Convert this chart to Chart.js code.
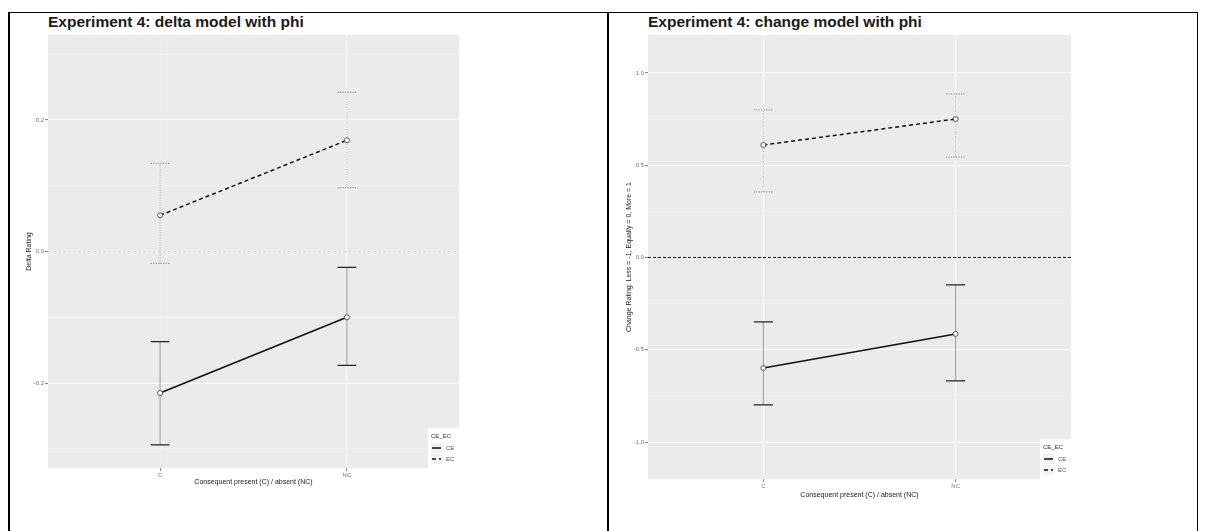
<!DOCTYPE html>
<html>
<head>
<meta charset="utf-8">
<title>Experiment 4</title>
<script src="https://cdn.jsdelivr.net/npm/chart.js@4.4.1/dist/chart.umd.min.js"></script>
<style>
  html, body { margin: 0; padding: 0; background: #fff; }
  body { width: 1205px; height: 531px; position: relative; overflow: hidden; font-family: "Liberation Sans", Arial, sans-serif; }
  .rule { position: absolute; background: #000; }
  .title { position: absolute; font-weight: bold; font-size: 15.5px; color: #1a1a1a; white-space: nowrap; }
  canvas { position: absolute; }
</style>
</head>
<body>
<div class="rule" style="left:8px; top:12px; width:1190px; height:1px"></div>
<div class="rule" style="left:8px; top:12px; width:2px; height:519px"></div>
<div class="rule" style="left:607px; top:12px; width:2px; height:519px"></div>
<div class="rule" style="left:1197px; top:12px; width:1px; height:519px"></div>

<div class="title" style="left:48px; top:13px">Experiment 4: delta model with phi</div>
<div class="title" style="left:648px; top:13px">Experiment 4: change model with phi</div>

<canvas id="deltaChart" width="460" height="500" style="left:10px; top:14px"></canvas>
<canvas id="changeChart" width="470" height="500" style="left:610px; top:14px"></canvas>

<script>
const categories = ["C", "NC"];
const seriesNames = ["CE", "EC"];

// delta model: means and error bar ends
const deltaCE = [-0.215, -0.100];
const deltaCELow = [-0.294, -0.173];
const deltaCEHigh = [-0.137, -0.024];
const deltaEC = [0.055, 0.169];
const deltaECLow = [-0.018, 0.097];
const deltaECHigh = [0.134, 0.242];
const deltaTicks = [-0.2, 0.0, 0.2];
const deltaMinor = [-0.3, -0.1, 0.1, 0.3];

// change model
const changeCE = [-0.599, -0.414];
const changeCELow = [-0.799, -0.669];
const changeCEHigh = [-0.349, -0.149];
const changeEC = [0.609, 0.750];
const changeECLow = [0.355, 0.544];
const changeECHigh = [0.799, 0.886];
const changeTicks = [-1.0, -0.5, 0.0, 0.5, 1.0];
const changeMinor = [-0.75, -0.25, 0.25, 0.75];

const FONT = '"Liberation Sans", Arial, sans-serif';

// grey panel behind the grid
const panelBg = {
    id: "panelBg",
    beforeDraw(chart) {
        const { ctx, chartArea: a } = chart;
        ctx.save();
        ctx.fillStyle = "#ebebeb";
        ctx.fillRect(a.left, a.top, a.width, a.height);
        ctx.restore();
    }
};

// reference line at zero and error bars, under the lines and points
const errorBars = {
    id: "errorBars",
    beforeDatasetsDraw(chart, args, opts) {
        const { ctx, chartArea: a, scales: { x, y } } = chart;
        ctx.save();

        const y0 = y.getPixelForValue(0);
        ctx.strokeStyle = opts.zeroColor;
        ctx.lineWidth = 1;
        ctx.setLineDash([3, 2]);
        ctx.beginPath();
        ctx.moveTo(a.left, y0);
        ctx.lineTo(a.right, y0);
        ctx.stroke();

        chart.data.datasets.forEach(ds => {
            ds.data.forEach((p, i) => {
                const px = x.getPixelForValue(p.x);
                const half = x.getPixelForValue(p.x + 0.05) - px;
                const lo = y.getPixelForValue(ds.errLow[i]);
                const hi = y.getPixelForValue(ds.errHigh[i]);

                ctx.setLineDash(ds.errDash);
                ctx.lineWidth = 1;
                ctx.strokeStyle = ds.errColor;
                ctx.beginPath();
                ctx.moveTo(px, lo);
                ctx.lineTo(px, hi);
                ctx.stroke();

                ctx.strokeStyle = ds.capColor;
                ctx.lineWidth = 1.3;
                ctx.beginPath();
                ctx.moveTo(px - half, hi);
                ctx.lineTo(px + half, hi);
                ctx.moveTo(px - half, lo);
                ctx.lineTo(px + half, lo);
                ctx.stroke();
            });
        });
        ctx.restore();
    }
};

// ggplot style key in the lower right corner
const keyLegend = {
    id: "keyLegend",
    afterDraw(chart) {
        const { ctx, chartArea: a } = chart;
        const x0 = a.right - 31, y0 = a.bottom - 40;
        ctx.save();
        ctx.fillStyle = "#fff";
        ctx.fillRect(x0, y0, 31, 40);
        ctx.font = "6px " + FONT;
        ctx.textBaseline = "middle";
        ctx.fillStyle = "#333";
        ctx.fillText("CE_EC", x0 + 3, y0 + 8);
        chart.data.datasets.forEach((ds, i) => {
            const ky = y0 + 20 + i * 11;
            ctx.fillStyle = "#f2f2f2";
            ctx.fillRect(x0 + 3, ky - 5, 11, 10);
            ctx.strokeStyle = "#111";
            ctx.lineWidth = 1.5;
            ctx.setLineDash(ds.borderDash);
            ctx.beginPath();
            ctx.moveTo(x0 + 4, ky);
            ctx.lineTo(x0 + 13, ky);
            ctx.stroke();
            ctx.setLineDash([]);
            ctx.fillStyle = "#555";
            ctx.fillText(ds.label, x0 + 18, ky);
        });
        ctx.restore();
    }
};

function series(name, vals, low, high, dashed) {
    return {
        label: name,
        data: vals.map((v, i) => ({ x: i + 1, y: v })),
        errLow: low,
        errHigh: high,
        errDash: dashed ? [1, 1.5] : [],
        errColor: dashed ? "#aaa" : "#999",
        capColor: dashed ? "#888" : "#222",
        borderColor: "#111",
        borderWidth: 1.5,
        borderDash: dashed ? [4, 3] : [],
        pointRadius: 2.5,
        pointBorderWidth: 0.8,
        pointBorderColor: "#333",
        pointBackgroundColor: "#fff",
        tension: 0
    };
}

function drawPanel(id, s) {
    const isMajor = v => s.ticks.some(t => Math.abs(t - v) < 1e-9);
    return new Chart(document.getElementById(id), {
        type: "line",
        data: {
            datasets: [
                series(seriesNames[0], s.ce, s.ceLow, s.ceHigh, false),
                series(seriesNames[1], s.ec, s.ecLow, s.ecHigh, true)
            ]
        },
        options: {
            responsive: false,
            animation: false,
            devicePixelRatio: 1,
            layout: { padding: { top: 21, right: s.padRight, bottom: s.padBottom, left: 0 } },
            plugins: {
                legend: { display: false },
                tooltip: { enabled: false },
                errorBars: { zeroColor: s.zeroColor }
            },
            scales: {
                x: {
                    type: "linear",
                    min: 0.4,
                    max: 2.6,
                    afterBuildTicks: sc => { sc.ticks = categories.map((c, i) => ({ value: i + 1 })); },
                    afterFit: sc => { sc.height = 25; },
                    border: { display: false },
                    grid: {
                        color: c => s.xGrid[c.index] || "#fff",
                        lineWidth: 1,
                        tickColor: "#888",
                        tickLength: 3
                    },
                    ticks: {
                        callback: v => categories[v - 1],
                        font: { size: 6, family: FONT },
                        color: "#777",
                        padding: 1,
                        maxRotation: 0
                    },
                    title: {
                        display: true,
                        text: "Consequent present (C) / absent (NC)",
                        font: { size: 7, family: FONT },
                        color: "#222",
                        padding: { top: 0, bottom: s.xTitlePad }
                    }
                },
                y: {
                    min: s.min,
                    max: s.max,
                    afterBuildTicks: sc => {
                        sc.ticks = s.ticks.concat(s.minor).sort((a, b) => a - b).map(v => ({ value: v }));
                    },
                    afterFit: sc => { sc.width = 38; },
                    border: { display: false },
                    grid: {
                        color: c => isMajor(c.tick.value) ? "#fff" : "#f4f4f4",
                        lineWidth: c => isMajor(c.tick.value) ? 1.1 : 0.7,
                        tickColor: c => isMajor(c.tick.value) ? "#888" : "rgba(0,0,0,0)",
                        tickLength: 3
                    },
                    ticks: {
                        autoSkip: false,
                        callback: v => isMajor(v) ? v.toFixed(1) : "",
                        font: { size: 6, family: FONT },
                        color: "#777",
                        padding: 1
                    },
                    title: {
                        display: true,
                        text: s.yTitle,
                        font: { size: 7, family: FONT },
                        color: "#222",
                        padding: { top: 15, bottom: 0 }
                    }
                }
            }
        },
        plugins: [panelBg, errorBars, keyLegend]
    });
}

drawPanel("deltaChart", {
    ce: deltaCE, ceLow: deltaCELow, ceHigh: deltaCEHigh,
    ec: deltaEC, ecLow: deltaECLow, ecHigh: deltaECHigh,
    ticks: deltaTicks, minor: deltaMinor,
    min: -0.329, max: 0.329,
    yTitle: "Delta Rating",
    zeroColor: "#d6d6d6",
    xGrid: ["#ededed", "#fff"],
    padRight: 11, padBottom: 21, xTitlePad: 7
});

drawPanel("changeChart", {
    ce: changeCE, ceLow: changeCELow, ceHigh: changeCEHigh,
    ec: changeEC, ecLow: changeECLow, ecHigh: changeECHigh,
    ticks: changeTicks, minor: changeMinor,
    min: -1.2, max: 1.205,
    yTitle: "Change Rating: Less = -1, Equally = 0, More = 1",
    zeroColor: "#111",
    xGrid: ["#fff", "#fff"],
    padRight: 9, padBottom: 10, xTitlePad: 5
});
</script>
</body>
</html>
